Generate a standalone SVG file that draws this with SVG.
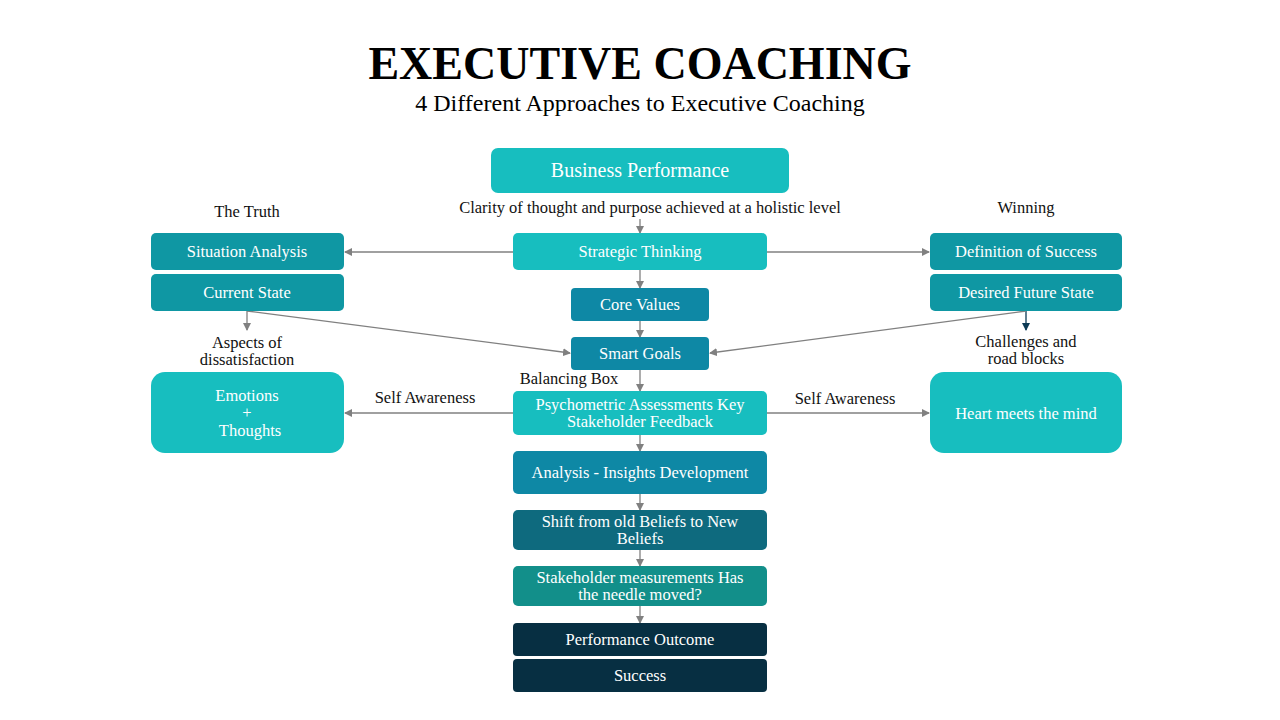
<svg xmlns="http://www.w3.org/2000/svg" width="1280" height="720" viewBox="0 0 1280 720">
<defs>
<marker id="ah" markerWidth="8" markerHeight="8" refX="7" refY="4" orient="auto" markerUnits="userSpaceOnUse"><path d="M0,0 L8,4 L0,8 z" fill="#808080"/></marker>
<marker id="ahb" markerWidth="8" markerHeight="8" refX="7" refY="4" orient="auto" markerUnits="userSpaceOnUse"><path d="M0,0 L8,4 L0,8 z" fill="#0b3a55"/></marker>
<style>
text{font-family:"Liberation Serif","DejaVu Serif",serif;text-anchor:middle}
.w{fill:#fff;font-size:16.5px}
.k{fill:#111;font-size:16.5px}
.c{stroke:#808080;stroke-width:1.3;fill:none;marker-end:url(#ah)}
</style>
</defs>
<rect width="1280" height="720" fill="#fff"/>
<text x="640" y="79" style="font-size:46px;font-weight:bold;fill:#000">EXECUTIVE COACHING</text>
<text x="640" y="111" style="font-size:24px;fill:#000">4 Different Approaches to Executive Coaching</text>

<g id="connectors">
<line class="c" x1="640" y1="219" x2="640" y2="233"/>
<line class="c" x1="513" y1="252" x2="345" y2="252"/>
<line class="c" x1="767" y1="252" x2="929" y2="252"/>
<line class="c" x1="640" y1="270" x2="640" y2="288"/>
<line class="c" x1="640" y1="321" x2="640" y2="337"/>
<line class="c" x1="247" y1="311" x2="247" y2="330"/>
<line class="c" x1="247" y1="311" x2="570" y2="353"/>
<line x1="1026" y1="311" x2="1026" y2="330" stroke="#0b3a55" stroke-width="1.3" marker-end="url(#ahb)"/>
<line class="c" x1="1026" y1="311" x2="710" y2="353"/>
<line class="c" x1="640" y1="370" x2="640" y2="391"/>
<line class="c" x1="513" y1="413" x2="345" y2="413"/>
<line class="c" x1="767" y1="413" x2="929" y2="413"/>
<line class="c" x1="640" y1="435" x2="640" y2="451"/>
<line class="c" x1="640" y1="494" x2="640" y2="510"/>
<line class="c" x1="640" y1="550" x2="640" y2="566"/>
<line class="c" x1="640" y1="606" x2="640" y2="623"/>
</g>

<g id="labels">
<text class="k" x="650" y="213">Clarity of thought and purpose achieved at a holistic level</text>
<text class="k" x="247" y="217">The Truth</text>
<text class="k" x="1026" y="213">Winning</text>
<text class="k" x="247" y="348">Aspects of</text>
<text class="k" x="247" y="365">dissatisfaction</text>
<text class="k" x="1026" y="347">Challenges and</text>
<text class="k" x="1026" y="364">road blocks</text>
<text class="k" x="569" y="384">Balancing Box</text>
<text class="k" x="425" y="403">Self Awareness</text>
<text class="k" x="845" y="404">Self Awareness</text>
</g>

<g id="n-business"><rect x="491" y="148" width="298" height="45" rx="7" fill="#17BEBF"/><text class="w" x="640" y="177" style="font-size:20px">Business Performance</text></g>
<g id="n-strategic"><rect x="513" y="233" width="254" height="37" rx="5" fill="#17BEBF"/><text class="w" x="640" y="257">Strategic Thinking</text></g>
<g id="n-situation"><rect x="151" y="233" width="193" height="37" rx="5" fill="#0F97A3"/><text class="w" x="247" y="257">Situation Analysis</text></g>
<g id="n-current"><rect x="151" y="274" width="193" height="37" rx="5" fill="#0F97A3"/><text class="w" x="247" y="298">Current State</text></g>
<g id="n-definition"><rect x="930" y="233" width="192" height="37" rx="5" fill="#0F97A3"/><text class="w" x="1026" y="257">Definition of Success</text></g>
<g id="n-desired"><rect x="930" y="274" width="192" height="37" rx="5" fill="#0F97A3"/><text class="w" x="1026" y="298">Desired Future State</text></g>
<g id="n-core"><rect x="571" y="288" width="138" height="33" rx="4" fill="#0E88A5"/><text class="w" x="640" y="310">Core Values</text></g>
<g id="n-smart"><rect x="571" y="337" width="138" height="33" rx="4" fill="#0E88A5"/><text class="w" x="640" y="359">Smart Goals</text></g>
<g id="n-emotions"><rect x="151" y="372" width="193" height="81" rx="14" fill="#17BEBF"/><text class="w" x="247" y="401">Emotions</text><text class="w" x="247" y="418">+</text><text class="w" x="250" y="436">Thoughts</text></g>
<g id="n-heart"><rect x="930" y="372" width="192" height="81" rx="14" fill="#17BEBF"/><text class="w" x="1026" y="419">Heart meets the mind</text></g>
<g id="n-psych"><rect x="513" y="391" width="254" height="44" rx="5" fill="#17BEBF"/><text class="w" x="640" y="410">Psychometric Assessments Key</text><text class="w" x="640" y="427">Stakeholder Feedback</text></g>
<g id="n-analysis"><rect x="513" y="451" width="254" height="43" rx="5" fill="#0E88A5"/><text class="w" x="640" y="478">Analysis - Insights Development</text></g>
<g id="n-shift"><rect x="513" y="510" width="254" height="40" rx="5" fill="#0E6A7E"/><text class="w" x="640" y="527">Shift from old Beliefs to New</text><text class="w" x="640" y="544">Beliefs</text></g>
<g id="n-stake"><rect x="513" y="566" width="254" height="40" rx="5" fill="#128F8A"/><text class="w" x="640" y="583">Stakeholder measurements Has</text><text class="w" x="640" y="600">the needle moved?</text></g>
<g id="n-outcome"><rect x="513" y="623" width="254" height="33" rx="4" fill="#072F42"/><text class="w" x="640" y="645">Performance Outcome</text></g>
<g id="n-success"><rect x="513" y="659" width="254" height="33" rx="4" fill="#072F42"/><text class="w" x="640" y="681">Success</text></g>
</svg>
